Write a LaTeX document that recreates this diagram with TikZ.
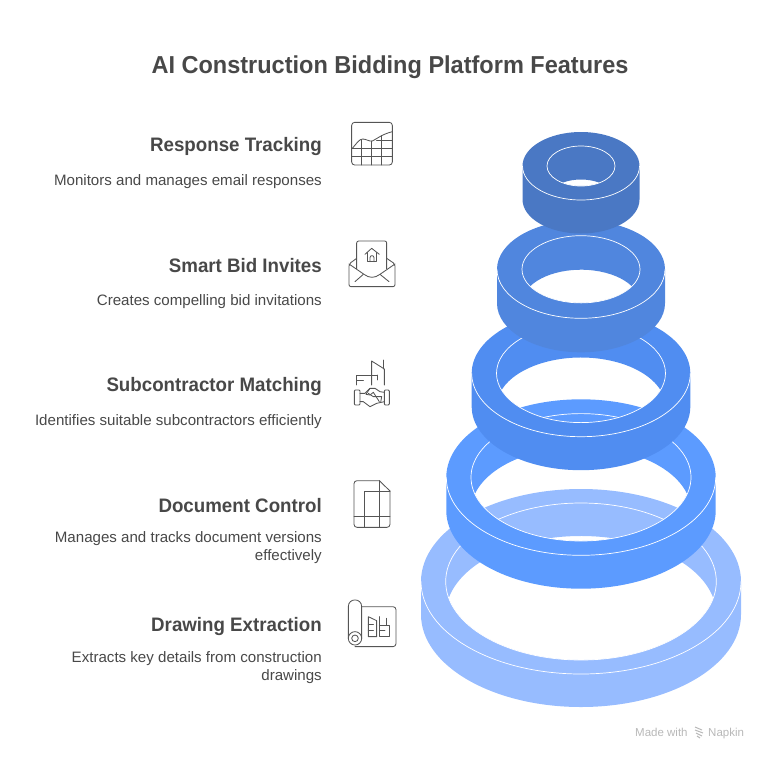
\documentclass[tikz,border=0pt]{standalone}
\usepackage{fontspec}
\setmainfont{Liberation Sans}
\newfontfamily\narrowfont[FakeStretch=0.96]{Liberation Sans}
\definecolor{ringa}{RGB}{74,120,196}
\definecolor{ringb}{RGB}{80,134,222}
\definecolor{ringc}{RGB}{80,141,241}
\definecolor{ringd}{RGB}{92,155,255}
\definecolor{ringe}{RGB}{151,188,255}
\definecolor{ink}{RGB}{72,72,72}
\definecolor{iconink}{RGB}{85,85,85}
\newcommand{\stackring}[8]{%
 % cx cy rx ry irx iry h colour
 \begin{scope}[y=1pt]
 \pgfmathsetmacro{\Yc}{-#2}
 \pgfmathsetmacro{\Ang}{asin(#7/(2*#6))}
 \pgfmathsetmacro{\Wid}{#5*cos(\Ang)}
 \fill[#8,even odd rule]
   (#1-#3,\Yc) arc[start angle=180,end angle=0,x radius=#3,y radius=#4]
   -- ++(0,-#7) arc[start angle=0,end angle=-180,x radius=#3,y radius=#4] -- cycle
   (#1-\Wid,\Yc-#7/2) arc[start angle=180-\Ang,end angle=\Ang,x radius=#5,y radius=#6]
   arc[start angle=-\Ang,end angle=-180+\Ang,x radius=#5,y radius=#6] -- cycle;
 \draw[ringline] (#1,\Yc) ellipse[x radius=#5,y radius=#6];
 \draw[ringline] (#1-#3,\Yc) arc[start angle=180,end angle=360,x radius=#3,y radius=#4];
 \end{scope}}
\tikzset{
 ringline/.style={white,line width=0.7pt},
 titletext/.style={font=\narrowfont\bfseries\fontsize{24.5}{30}\selectfont,text=ink,anchor=center},
 headtext/.style={font=\narrowfont\bfseries\fontsize{19.5}{24}\selectfont,text=ink,anchor=east,inner sep=0pt},
 desctext/.style={font=\fontsize{15.1}{18}\selectfont,text=ink,anchor=north east,inner sep=0pt,align=right},
 icon/.style={iconink,line width=0.85pt,line join=round,line cap=round},
 wmark/.style={text=black!28,font=\fontsize{11.5}{14}\selectfont,inner sep=0pt,anchor=base west}
}
\begin{document}
\begin{tikzpicture}[x=1pt,y=-1pt]
\useasboundingbox (0,0) rectangle (766,756);
% rings, bottom first
\stackring{581}{581.5}{160}{92.5}{135.3}{78.5}{33}{ringe}
\stackring{581}{477.3}{134.7}{78}{110}{63.7}{33.4}{ringd}
\stackring{581}{373.3}{109.3}{63.4}{84.5}{49.3}{33.5}{ringc}
\stackring{581}{269.3}{84}{49}{59}{33.6}{34}{ringb}
\stackring{581}{166}{58.5}{34}{34}{20}{33.5}{ringa}
% texts
\node[titletext] (title) at (390,67.5) {AI Construction Bidding Platform Features};
\node[headtext] (h1) at (322,146) {Response Tracking};
\node[desctext] (d1) at (322,174.5) {Monitors and manages email responses};
\node[headtext] (h2) at (322,266) {Smart Bid Invites};
\node[desctext] (d2) at (322,294.5) {Creates compelling bid invitations};
\node[headtext] (h3) at (322,386) {Subcontractor Matching};
\node[desctext] (d3) at (322,414.5) {Identifies suitable subcontractors efficiently};
\node[headtext] (h4) at (322,506) {Document Control};
\node[desctext] (d4) at (322,531) {Manages and tracks document versions\\effectively};
\node[headtext] (h5) at (322,626) {Drawing Extraction};
\node[desctext] (d5) at (322,651) {Extracts key details from construction\\drawings};
% icon: chart
\begin{scope}[icon,shift={(340,115)},x=0.3333pt,y=-0.3333pt]
\draw[rounded corners=3pt] (35,22) rectangle (157,150);
\draw (37,100) .. controls (50,85) and (58,72) .. (68,72) .. controls (78,72) and (88,80) .. (97,78) .. controls (110,72) and (125,58) .. (157,50);
\draw (65,74)--(65,150) (95,78)--(95,150) (125,62)--(125,150);
\draw (110,75)--(157,75) (37,100)--(157,100) (37,125)--(157,125);
\end{scope}
% icon: envelope
\begin{scope}[icon,shift={(340,115)},x=0.3333pt,y=-0.3333pt]
\draw[rounded corners=2pt] (50,462)--(50,378)--(140,378)--(140,462);
\draw[rounded corners=2pt] (50,430)--(27,447)--(27,515)--(165,515)--(165,447)--(140,430);
\draw (27,447)--(72,478) .. controls (88,490) and (104,490) .. (120,478) -- (165,447);
\draw (45,500)--(70,478) (147,500)--(120,478);
\draw (75,418)--(95,400)--(118,418);
\draw (82,413)--(82,440)--(110,440)--(110,413);
\draw (90,440)--(90,428) .. controls (90,420) and (102,420) .. (102,428) -- (102,440);
\end{scope}
% icon: plan and handshake
\begin{scope}[icon,shift={(340,355)},x=0.3333pt,y=-0.3333pt]
\draw (50,90)--(50,60)--(112,60);
\draw (50,76)--(70,76);
\draw (95,90)--(95,18)--(133,42)--(133,90);
\draw (130,15)--(130,42);
\draw (112,60)--(112,75);
\draw[rounded corners=1pt] (43,105) rectangle (60,150);
\draw[rounded corners=1pt] (133,105) rectangle (148,150);
\draw (60,115)--(75,115)--(90,100)--(105,100)--(120,110)--(133,112);
\draw (60,140)--(70,140)--(90,155)--(110,145)--(133,140);
\draw (90,100)--(78,118)--(90,120)--(100,112)--(118,140);
\draw (85,115)--(100,125)--(125,125);
\draw (125,125)--(122,142);
\end{scope}
% icon: document
\begin{scope}[icon,shift={(340,475)},x=0.3333pt,y=-0.3333pt]
\draw[rounded corners=3pt] (150,48)--(150,157)--(42,157)--(42,17)--(118,17);
\draw (118,17)--(150,48);
\draw (72,157)--(72,48)--(150,48);
\draw (118,17)--(118,157);
\draw (42,125)--(150,125);
\end{scope}
% icon: scroll
\begin{scope}[icon,shift={(340,595)},x=0.3333pt,y=-0.3333pt]
\draw (25,130)--(25,35) .. controls (25,8) and (65,8) .. (65,35) -- (65,130);
\draw (45,130) circle[radius=6.7pt];
\draw (45,130) circle[radius=3.3pt];
\draw[rounded corners=3pt] (65,35)--(168,35)--(168,155)--(45,155);
\draw (85,125)--(85,65)--(110,77)--(110,125)--cycle;
\draw (85,88)--(100,88) (85,105)--(100,105);
\draw (118,65)--(118,125)--(148,125)--(148,90)--(118,90);
\draw (118,107)--(135,107) (140,70)--(140,90);
\end{scope}
% watermark
\node[wmark] (madewith) at (635,736) {Made with};
\node[wmark] (napkin) at (708,736) {Napkin};
\begin{scope}[black!28,line width=1pt]
\draw (695,727)--(702,730) (695,730)--(703,733) (696,733)--(702,736) (697,736)--(700,738);
\end{scope}
\end{tikzpicture}
\end{document}
